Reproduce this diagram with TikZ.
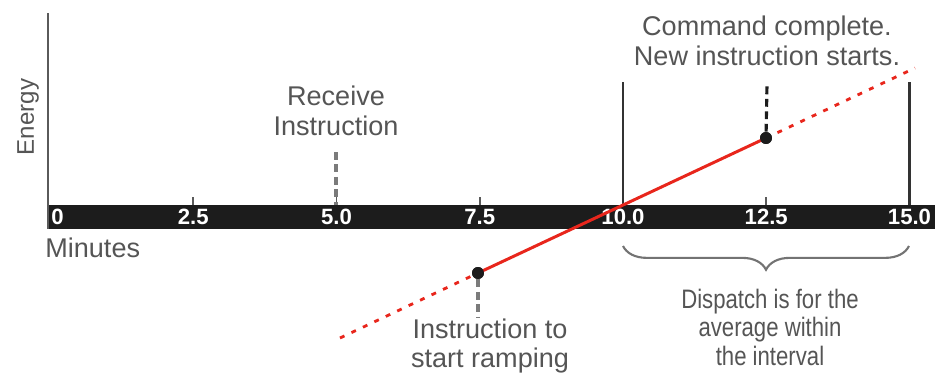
\documentclass[tikz,border=0pt]{standalone}
\usepackage{fontspec}
\setmainfont{Liberation Sans}
\newfontfamily\narrowsans[FakeStretch=0.83]{Liberation Sans}
\usetikzlibrary{positioning,calc,decorations.pathreplacing}

\definecolor{labelgray}{HTML}{555555}
\definecolor{axisgray}{HTML}{5A5A5A}
\definecolor{bargray}{HTML}{1C1C1C}
\definecolor{rampred}{HTML}{E8261C}

\begin{document}
\begin{tikzpicture}[x=0.02cm, y=-0.02cm, node distance=0.3cm,
    lbl/.style={text=labelgray, align=center, inner sep=0pt,
      font=\fontsize{15.4}{17}\selectfont},
    ticklbl/.style={text=white, inner sep=0pt,
      font=\bfseries\fontsize{12.6}{12.6}\selectfont},
    leader/.style={axisgray!80, line width=1.8pt, dash pattern=on 4.5pt off 2.6pt},
    rampdot/.style={circle, fill=bargray, inner sep=0pt, minimum size=6.8pt}]
    \useasboundingbox (0,0) rectangle (944,383);

    % axes and the time bar
    \coordinate (barNW) at (47,205);
    \coordinate (barSE) at (935,229);
    \fill[bargray] (barNW) rectangle (barSE);
    \draw[axisgray, line width=1.5pt] (48,13) -- (48,229);

    % tick labels on the bar
    \node[ticklbl, anchor=west] (tk0) at (51,217) {0};
    \foreach \t [count=\i] in {2.5,5.0,7.5,10.0,12.5,15.0} {
      \node[ticklbl] (tk\i) at ({50+57.3*\t},217) {\t};
    }

    % short ticks
    \foreach \i in {1,2,3,5} {
      \draw[axisgray, line width=0.9pt] (tk\i |- 0,197) -- (tk\i |- barNW);
    }

    % interval walls
    \draw[bargray!90, line width=1.7pt] (tk4 |- 0,82) -- (tk4 |- barNW);
    \draw[bargray!90, line width=1.7pt] (tk6 |- 0,82) -- (tk6 |- barNW);

    % ramp
    \node[rampdot] (start) at (478,273) {};
    \node[rampdot] (done) at (766,138) {};
    \coordinate (rampfrom) at (340,338);
    \coordinate (rampto) at (915,68);
    \draw[rampred, line width=1.6pt, dash pattern=on 2.8pt off 4.4pt] (rampfrom) -- (start.center);
    \draw[rampred, line width=1.6pt, dash pattern=on 2.8pt off 4.4pt] (done.center) -- (rampto);
    \draw[rampred, line width=1.7pt] (start.center) -- (done.center);

    % labels
    \node[lbl] (cmdtxt) at (767,41) {Command complete.\\New instruction starts.};
    \node[lbl] (recvtxt) at (336,111) {Receive\\Instruction};
    \node[lbl] (ramptxt) at (490,346) {Instruction to\\start ramping};
    \node[lbl, rotate=90, font=\fontsize{13.7}{15}\selectfont] (energy) at (28,117) {Energy};
    \node[lbl, anchor=west] (minutes) at (45,248) {Minutes};

    % leaders
    \coordinate (recvtop) at (336,152);
    \coordinate (donetop) at (767,84);
    \coordinate (startbot) at (478,318);
    \draw[leader] (recvtop) -- (recvtop |- barNW);
    \draw[leader, bargray] (done) -- (donetop);
    \draw[leader] (start) -- (startbot);
    \node[rampdot] at (start) {};
    \node[rampdot] at (done) {};

    % brace over the interval
    \coordinate (braceL) at (623,246);
    \coordinate (braceR) at (909,246);
    \draw[axisgray!85, line width=1.2pt, decorate,
      decoration={brace, mirror, amplitude=13.5pt}] (braceL) -- (braceR);
    \node[lbl, font=\narrowsans\fontsize{15.2}{16.2}\selectfont] (disptxt) at (770,327)
      {Dispatch is for the\\average within\\the interval};
\end{tikzpicture}
\end{document}
